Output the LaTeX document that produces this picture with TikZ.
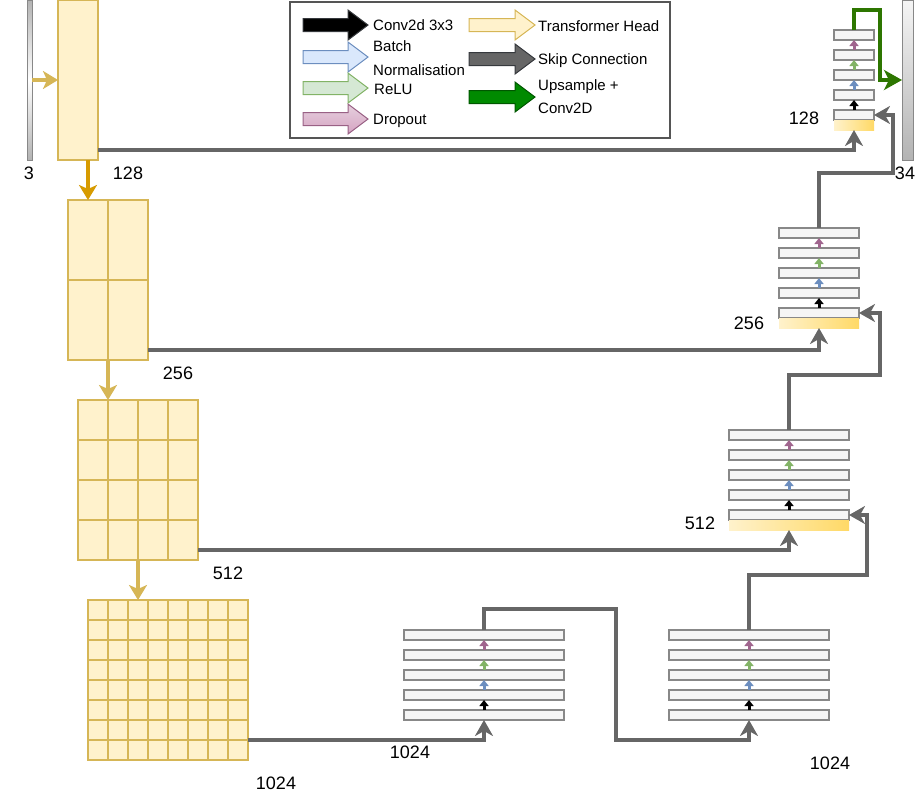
\documentclass[tikz,border=0pt]{standalone}
\usepackage{fontspec}
\setmainfont{Liberation Sans}
\usetikzlibrary{arrows.meta}
\definecolor{yfill}{HTML}{FFF2CC}
\definecolor{ystroke}{HTML}{D6B656}
\definecolor{ydark}{HTML}{FFD966}
\definecolor{orng}{HTML}{D79B00}
\definecolor{skipc}{HTML}{666666}
\definecolor{barfill}{HTML}{F5F5F5}
\definecolor{barstroke}{HTML}{888888}
\definecolor{bnblue}{HTML}{6C8EBF}
\definecolor{bnbluefill}{HTML}{DAE8FC}
\definecolor{relug}{HTML}{82B366}
\definecolor{relugfill}{HTML}{D5E8D4}
\definecolor{dropp}{HTML}{A0658E}
\definecolor{droppstroke}{HTML}{996185}
\definecolor{droppfill}{HTML}{E6D0DE}
\definecolor{droppdark}{HTML}{D5A3C2}
\definecolor{upg}{HTML}{2D7600}
\definecolor{upgfill}{HTML}{008A00}
\definecolor{upgstroke}{HTML}{005700}
\definecolor{convstroke}{HTML}{36393D}
\definecolor{legstroke}{HTML}{555555}
\definecolor{graybar}{HTML}{B3B3B3}

\tikzset{
  encbox/.style={draw=ystroke, fill=yfill, line width=1.2pt, inner sep=0pt, outer sep=0pt, anchor=north west},
  gridl/.style={draw=ystroke, line width=1.2pt},
  barbox/.style={draw=barstroke, fill=barfill, line width=1.3pt, minimum height=10pt, inner sep=0pt, outer sep=0pt, anchor=north west},
  ystrip/.style={left color=yfill, right color=ydark, draw=none, minimum height=10pt, inner sep=0pt, outer sep=0pt, anchor=north west},
  sarr/.style={line width=3pt, -{Triangle[length=6pt,width=9pt]}},
  skiparr/.style={draw=skipc, line width=3.5pt, -{Stealth[length=16pt,width=18pt,inset=5pt]}},
  uparr/.style={draw=upg, line width=3.5pt, -{Stealth[length=18pt,width=20pt,inset=5pt]}},
  encarr/.style={line width=3.5pt, -{Stealth[length=15pt,width=18pt,inset=4pt]}},
  lab/.style={font=\fontsize{18}{21}\selectfont, inner sep=0pt},
  legtext/.style={font=\fontsize{15}{24}\selectfont, anchor=west, inner sep=0pt, align=left},
  legone/.style={font=\fontsize{15}{18}\selectfont, anchor=west, inner sep=0pt, text height=10.7pt, text depth=0pt},
  gbar/.style={draw=barstroke, line width=1pt, top color=barfill, bottom color=graybar, inner sep=0pt, outer sep=0pt, anchor=north west}
}

\newcommand{\barstack}[4]{%
  \foreach \k in {1,...,5} {
    \node[barbox, minimum width=#3] (#1b\k) at ({#2},{#4+20*(\k-1)}) {};
  }
  \draw[sarr, black] (#1b5.north) -- (#1b4.south);
  \draw[sarr, bnblue] (#1b4.north) -- (#1b3.south);
  \draw[sarr, relug] (#1b3.north) -- (#1b2.south);
  \draw[sarr, dropp] (#1b2.north) -- (#1b1.south);
}

\newcommand{\legarrow}[4]{%
  \path[#4, line width=1pt] ({#1},{#3-6.5}) -- ({#2-20},{#3-6.5}) -- ({#2-20},{#3-15}) -- ({#2},{#3}) -- ({#2-20},{#3+15}) -- ({#2-20},{#3+6.5}) -- ({#1},{#3+6.5}) -- cycle;
}

\begin{document}
\begin{tikzpicture}[x=1pt,y=-1pt]
\useasboundingbox (0,0) rectangle (919,801);

% ---------- legend ----------
\node[draw=legstroke, line width=1.2pt, minimum width=380pt, minimum height=136pt, inner sep=0pt, outer sep=0pt, anchor=north west] (legend) at (290,2) {};
\legarrow{303}{368}{25}{fill=black, draw=convstroke}
\legarrow{303}{368}{57}{fill=bnbluefill, draw=bnblue}
\legarrow{303}{368}{88}{fill=relugfill, draw=relug}
\legarrow{303}{368}{119}{top color=droppfill, bottom color=droppdark, draw=droppstroke}
\legarrow{469}{535}{25}{fill=yfill, draw=ystroke}
\legarrow{469}{535}{59}{fill=skipc, draw=convstroke}
\legarrow{469}{535}{97}{fill=upgfill, draw=upgstroke}
\node[legone] (tconv) at (373,25) {Conv2d 3x3};
\node[legtext] (tbn) at (373,58) {Batch\\Normalisation};
\node[legone] (trelu) at (374,89) {ReLU};
\node[legone] (tdrop) at (373,119) {Dropout};
\node[legone] (tth) at (538,26) {Transformer Head};
\node[legone] (tskip) at (538,59) {Skip Connection};
\node[legtext] (tup) at (538,97) {Upsample +\\[-1pt]Conv2D};

% ---------- input / output bars ----------
\node[gbar, minimum width=5pt, minimum height=160pt, top color=graybar, bottom color=graybar, middle color=white] (inbar) at (27,0) {};
\node[gbar, minimum width=11pt, minimum height=160pt] (outbar) at (902,0) {};
\node[lab] (l3) at (29,173) {3};
\node[lab] (l34) at (905,173) {34};

% ---------- encoder ----------
\node[encbox, minimum width=40pt, minimum height=160pt] (e1) at (58,0) {};
\node[encbox, minimum width=80pt, minimum height=160pt] (e2) at (68,200) {};
\draw[gridl] (e2.north) -- (e2.south);
\draw[gridl] (e2.west) -- (e2.east);
\node[encbox, minimum width=120pt, minimum height=160pt] (e3) at (78,400) {};
\foreach \xx in {108,138,168} \draw[gridl] (\xx,400) -- (\xx,560);
\foreach \yy in {440,480,520} \draw[gridl] (78,\yy) -- (198,\yy);
\node[encbox, minimum width=160pt, minimum height=160pt] (e4) at (88,600) {};
\foreach \xx in {108,128,...,228} \draw[gridl] (\xx,600) -- (\xx,760);
\foreach \yy in {620,640,...,740} \draw[gridl] (88,\yy) -- (248,\yy);

\node[lab] (l128) at (128,173) {128};
\node[lab] (l256) at (178,373) {256};
\node[lab] (l512) at (228,573) {512};
\node[lab] (l1024a) at (276,783) {1024};

\draw[encarr, ystroke] (inbar.east) -- (e1.west);
\draw[encarr, orng] ([xshift=10pt]e1.south) -- ([xshift=-20pt]e2.north);
\draw[encarr, ystroke] (e2.south) -- ([xshift=-30pt]e3.north);
\draw[encarr, ystroke] (e3.south) -- ([xshift=-30pt]e4.north);

% ---------- bottleneck ----------
\barstack{sa}{404}{160}{630}
\barstack{sb}{669}{160}{630}
\node[lab] (l1024b) at (410,752) {1024};
\node[lab] (l1024c) at (830,763) {1024};

% ---------- decoder ----------
\barstack{da}{729}{120}{430}
\node[ystrip, minimum width=120pt] (day) at (729,520) {};
\barstack{db}{779}{80}{228}
\node[ystrip, minimum width=80pt] (dby) at (779,318) {};
\barstack{dc}{834}{40}{30}
\node[ystrip, minimum width=40pt] (dcy) at (834,120) {};
\node[lab] (l512d) at (700,523) {512};
\node[lab] (l256d) at (749,323) {256};
\node[lab] (l128d) at (804,118) {128};

% ---------- skip connections ----------
\draw[skiparr] ([yshift=10pt]e1.south east) -| (dcy.south);
\draw[skiparr] ([yshift=10pt]e2.south east) -| (dby.south);
\draw[skiparr] ([yshift=10pt]e3.south east) -| (day.south);
\draw[skiparr] ([yshift=20pt]e4.south east) -| (sab5.south);

% ---------- upward flow ----------
\draw[skiparr] (sab1.north) |- (616,609) -- (616,740) -| (sbb5.south);
\draw[skiparr] (sbb1.north) |- (867,575) |- (dab5.east);
\draw[skiparr] (dab1.north) |- (880,375) |- (dbb5.east);
\draw[skiparr] (dbb1.north) |- (893,173) |- (dcb5.east);
\draw[uparr] (dcb1.north) |- (880,10) |- (outbar.west);
\end{tikzpicture}
\end{document}
